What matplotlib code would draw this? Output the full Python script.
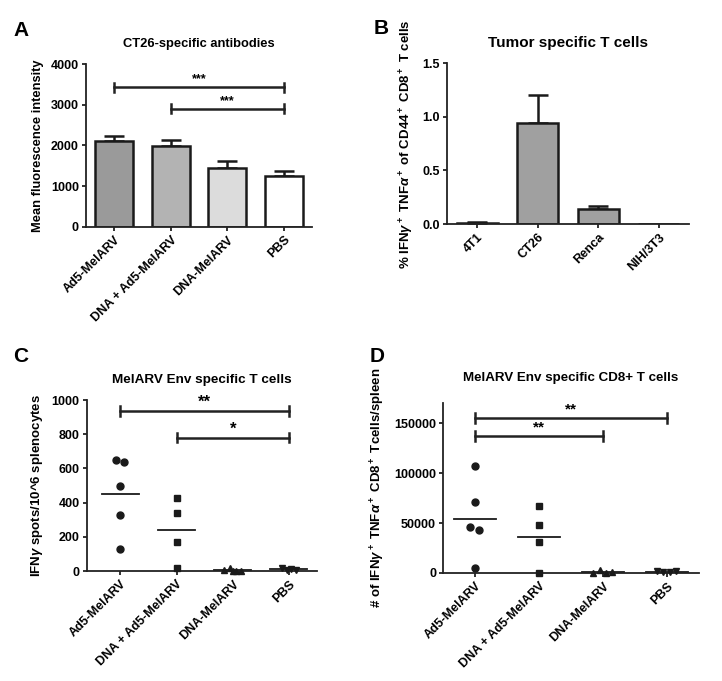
import numpy as np
import matplotlib
matplotlib.use("Agg")
import matplotlib.pyplot as plt

plt.rcParams['font.family'] = ['Liberation Sans', 'DejaVu Sans']
plt.rcParams['font.weight'] = 'bold'
plt.rcParams['mathtext.fontset'] = 'custom'
plt.rcParams['mathtext.rm'] = 'Liberation Sans'
plt.rcParams['mathtext.it'] = 'Liberation Sans:italic'
plt.rcParams['mathtext.bf'] = 'Liberation Sans:bold'

groups = ["Ad5-MelARV", "DNA + Ad5-MelARV", "DNA-MelARV", "PBS"]

# A: CT26-specific antibodies
a_mean = [2120, 1980, 1440, 1260]
a_sem = [120, 150, 180, 100]
a_colors = ["#9a9a9a", "#b3b3b3", "#dcdcdc", "#ffffff"]

# B: tumor specific T cells
b_cells = ["4T1", "CT26", "Renca", "NIH/3T3"]
b_mean = [0.01, 0.94, 0.145, 0.0]
b_sem = [0.005, 0.26, 0.02, 0.0]

# C: IFNg spots
c_vals = [
    [650, 640, 495, 325, 130],
    [425, 340, 170, 20],
    [5, 18, 0, 3, 2],
    [15, 5, 10, 8],
]
c_jit = [[-0.07, 0.07, 0.0, 0.0, 0.0], [0, 0, 0, 0], [-0.15, -0.05, 0.05, 0.15, 0.0], [-0.12, -0.04, 0.04, 0.12]]

# D: CD8+ T cells per spleen
d_vals = [
    [107000, 71000, 46000, 43000, 5000],
    [67000, 48000, 31000, 0],
    [0, 3000, 0, 1000],
    [2000, 1000, 500, 2000],
]
d_jit = [[0.0, 0.0, -0.07, 0.07, 0.0], [0, 0, 0, 0], [-0.15, -0.05, 0.05, 0.15], [-0.15, -0.05, 0.05, 0.15]]
markers = ["o", "s", "^", "v"]

fig = plt.figure(figsize=(7.22, 6.81), dpi=100)


def style_axes(ax):
    for s in ["top", "right"]:
        ax.spines[s].set_visible(False)
    for s in ["left", "bottom"]:
        ax.spines[s].set_linewidth(1.3)
        ax.spines[s].set_color("#222222")
    ax.tick_params(axis="both", width=1.3, length=3, pad=2, labelsize=9, color="#222222")


def sig_bar(ax, x1, x2, y, h, label, ty, fs):
    ax.plot([x1, x2], [y, y], color="#222222", lw=1.8)
    ax.plot([x1, x1], [y - h, y + h], color="#222222", lw=1.8)
    ax.plot([x2, x2], [y - h, y + h], color="#222222", lw=1.8)
    ax.text((x1 + x2) / 2, ty, label, ha="center", va="center", fontsize=fs, fontweight="bold")


# Panel A
ax = fig.add_axes([0.119, 0.667, 0.313, 0.239])
x = np.arange(len(groups))
ax.bar(x, a_mean, width=0.67, color=a_colors, edgecolor="#1a1a1a", linewidth=1.8, zorder=2)
ax.errorbar(x, a_mean, yerr=[np.zeros(4), a_sem], fmt="none", ecolor="#1a1a1a", elinewidth=1.8, capsize=7, capthick=1.8, zorder=1)
ax.set_xlim(-0.5, 3.5)
ax.set_ylim(0, 4000)
ax.set_yticks([0, 1000, 2000, 3000, 4000])
ax.set_xticks(x)
ax.set_xticklabels(groups, rotation=45, ha="right", rotation_mode="anchor")
ax.set_ylabel("Mean fluorescence intensity", fontsize=9.3, fontweight="bold", labelpad=5)
ax.set_title("CT26-specific antibodies", fontsize=9.3, fontweight="bold", pad=12)
style_axes(ax)
sig_bar(ax, 0, 3, 3430, 110, "***", 3620, 9)
sig_bar(ax, 1, 3, 2900, 110, "***", 3080, 9)

# Panel B
ax = fig.add_axes([0.619, 0.671, 0.335, 0.236])
x = np.arange(len(b_cells))
ax.bar(x, b_mean, width=0.68, color="#a0a0a0", edgecolor="#1a1a1a", linewidth=1.8, zorder=2)
ax.errorbar(x[:3], b_mean[:3], yerr=[np.zeros(3), b_sem[:3]], fmt="none", ecolor="#1a1a1a", elinewidth=1.8, capsize=7, capthick=1.8, zorder=1)
ax.set_xlim(-0.5, 3.5)
ax.set_ylim(0, 1.5)
ax.set_yticks([0.0, 0.5, 1.0, 1.5])
ax.set_yticklabels(["0.0", "0.5", "1.0", "1.5"])
ax.set_xticks(x)
ax.set_xticklabels(b_cells, rotation=45, ha="right", rotation_mode="anchor")
ax.set_ylabel(r"% IFN$\gamma^+$ TNF$\alpha^+$ of CD44$^+$ CD8$^+$ T cells", fontsize=9.5, fontweight="bold", labelpad=5)
ax.set_title("Tumor specific T cells", fontsize=11, fontweight="bold", pad=12)
style_axes(ax)

# Panel C
ax = fig.add_axes([0.120, 0.1615, 0.319, 0.251])
for i, vals in enumerate(c_vals):
    xs = i + np.array(c_jit[i][:len(vals)])
    ax.plot(xs, vals, linestyle="none", marker=markers[i], color="#1a1a1a", ms=5, clip_on=False, zorder=3)
    ax.plot([i - 0.33, i + 0.33], [np.mean(vals)] * 2, color="#1a1a1a", lw=1.3)
ax.set_xlim(-0.6, 3.5)
ax.set_ylim(0, 1000)
ax.set_yticks([0, 200, 400, 600, 800, 1000])
ax.set_xticks(range(4))
ax.set_xticklabels(groups, rotation=45, ha="right", rotation_mode="anchor")
ax.set_ylabel(r"IFN$\gamma$ spots/10^6 splenocytes", fontsize=9.5, fontweight="bold", labelpad=5)
ax.set_title("MelARV Env specific T cells", fontsize=9.7, fontweight="bold", pad=12)
style_axes(ax)
sig_bar(ax, 0, 3, 935, 28, "**", 985, 12)
sig_bar(ax, 1, 3, 780, 28, "*", 830, 12)

# Panel D
ax = fig.add_axes([0.6136, 0.1586, 0.354, 0.249])
for i, vals in enumerate(d_vals):
    xs = i + np.array(d_jit[i][:len(vals)])
    ax.plot(xs, vals, linestyle="none", marker=markers[i], color="#1a1a1a", ms=5, clip_on=False, zorder=3)
    ax.plot([i - 0.33, i + 0.33], [np.mean(vals)] * 2, color="#1a1a1a", lw=1.3)
ax.set_xlim(-0.5, 3.5)
ax.set_ylim(0, 170000)
ax.set_yticks([0, 50000, 100000, 150000])
ax.set_yticklabels(["0", "50000", "100000", "150000"])
ax.set_xticks(range(4))
ax.set_xticklabels(groups, rotation=45, ha="right", rotation_mode="anchor")
ax.set_ylabel(r"# of IFN$\gamma^+$ TNF$\alpha^+$ CD8$^+$ Tcells/spleen", fontsize=9.5, fontweight="bold", labelpad=5)
ax.set_title("MelARV Env specific CD8+ T cells", fontsize=9.6, fontweight="bold", pad=16)
style_axes(ax)
sig_bar(ax, 0, 3, 155000, 5000, "**", 164000, 11)
sig_bar(ax, 0, 2, 137000, 5000, "**", 146000, 11)

# panel letters
fig.text(0.018, 0.955, "A", fontsize=15, fontweight="bold", va="center")
fig.text(0.518, 0.958, "B", fontsize=15, fontweight="bold", va="center")
fig.text(0.018, 0.477, "C", fontsize=15, fontweight="bold", va="center")
fig.text(0.512, 0.477, "D", fontsize=15, fontweight="bold", va="center")

fig.savefig("out.png", dpi=100)
